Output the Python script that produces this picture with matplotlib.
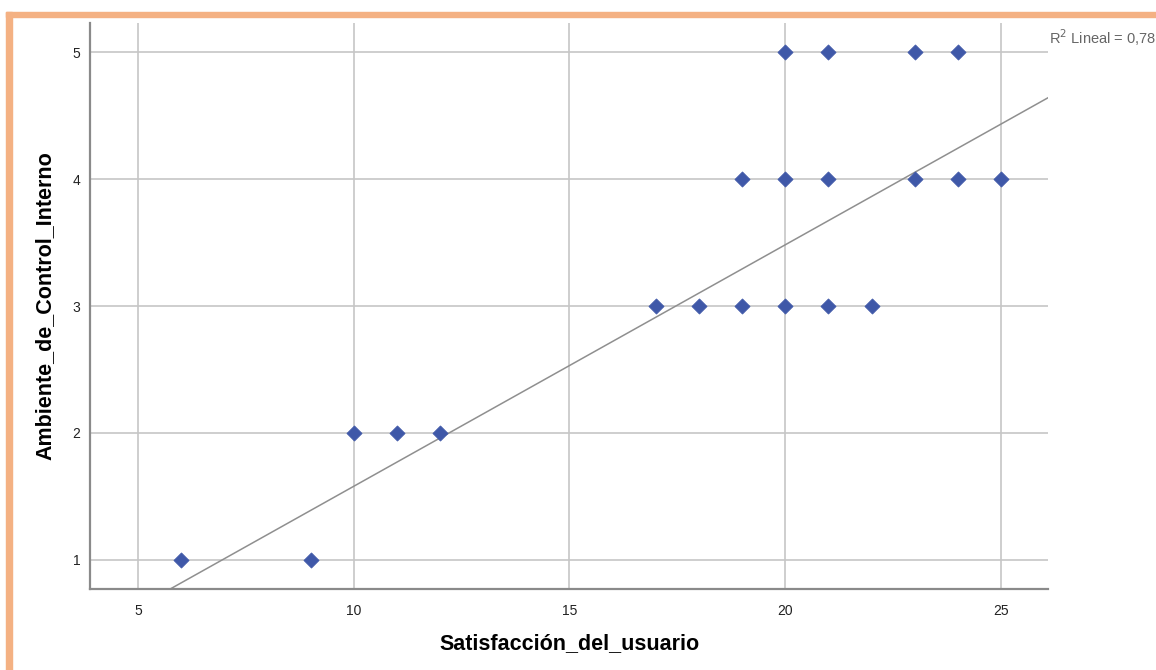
import numpy as np
import matplotlib.pyplot as plt
from matplotlib.patches import Rectangle

plt.rcParams['font.family'] = ['Liberation Sans', 'DejaVu Sans']

# data
satisfaccion = [6, 9, 10, 11, 12, 17, 18, 19, 20, 21, 22, 19, 20, 21, 23, 24, 25, 20, 21, 23, 24]
ambiente = [1, 1, 2, 2, 2, 3, 3, 3, 3, 3, 3, 4, 4, 4, 4, 4, 4, 5, 5, 5, 5]
fit_slope = 0.1903
fit_intercept = -0.324
r2_text = "R$^2$ Lineal = 0,781"
x_ticks = [5, 10, 15, 20, 25]
y_ticks = [1, 2, 3, 4, 5]

fig = plt.figure(figsize=(11.56, 6.70), dpi=100)
fig.patch.set_facecolor('white')

# orange frame of the screenshot (top and left)
orange = '#F4B183'
fig.patches.append(Rectangle((6 / 1156, 1 - 17 / 670), 1 - 6 / 1156, 5 / 670,
                             transform=fig.transFigure, color=orange, zorder=0))
fig.patches.append(Rectangle((6 / 1156, 0), 6 / 1156, 1 - 12 / 670,
                             transform=fig.transFigure, color=orange, zorder=0))

ax = fig.add_axes([90 / 1156, 81 / 670, 958 / 1156, 566 / 670])
ax.set_xlim(3.89, 26.09)
ax.set_ylim(0.77, 5.23)

ax.grid(True, color='#C6C6C6', linewidth=1.2)
ax.set_axisbelow(True)

xs = np.array(ax.get_xlim())
ax.plot(xs, fit_intercept + fit_slope * xs, color='#8F8F8F', linewidth=1.1, zorder=2)

ax.scatter(satisfaccion, ambiente, marker='D', s=60, color='#3F58A8',
           edgecolors='#3F58A8', linewidths=0.5, zorder=3)

ax.set_xticks(x_ticks)
ax.set_yticks(y_ticks)
ax.tick_params(length=0, labelsize=10, colors='#222222')
ax.tick_params(axis='x', pad=11)
ax.tick_params(axis='y', pad=7)

for side in ['top', 'right']:
    ax.spines[side].set_visible(False)
for side in ['left', 'bottom']:
    ax.spines[side].set_color('#8A8A8A')
    ax.spines[side].set_linewidth(1.6)

ax.set_xlabel('Satisfacción_del_usuario', fontsize=15.5, fontweight='bold', labelpad=10.5)
ax.set_ylabel('Ambiente_de_Control_Interno', fontsize=15.5, fontweight='bold', labelpad=12)

fig.text(1049 / 1156, 1 - 27 / 670, r2_text, fontsize=10.5, color='#666666', va='top', ha='left')

fig.savefig('out.png', dpi=100)
